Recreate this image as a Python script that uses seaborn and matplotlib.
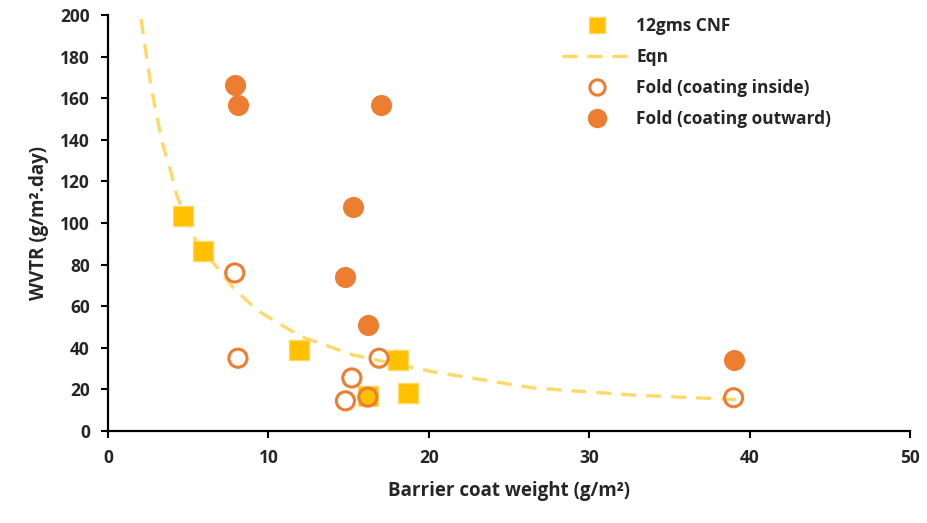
import matplotlib
matplotlib.use("Agg")
import matplotlib.pyplot as plt
import seaborn as sns
import pandas as pd
from matplotlib.lines import Line2D

# ---- data ----
cnf_x = [4.7, 5.9, 11.9, 18.1, 18.7, 16.2]
cnf_y = [103.5, 86.5, 39.0, 34.0, 18.3, 17.0]

inside_x = [7.9, 8.1, 16.9, 15.2, 14.8, 16.2, 39.0]
inside_y = [76.0, 35.0, 35.0, 25.5, 14.5, 16.3, 16.0]

outward_x = [7.9, 8.1, 17.0, 15.3, 14.8, 16.2, 39.0]
outward_y = [166.5, 156.5, 156.5, 107.5, 74.0, 51.0, 34.0]

eqn_x = [2.06, 2.4, 2.7, 3.0, 3.4, 3.9, 4.3, 5.5, 7.8, 9.3, 12.0, 15.3, 20.3, 26.5, 32.7, 39.8]
eqn_y = [198, 180, 165, 153, 138, 125, 113, 91, 69, 58, 45.5, 36.5, 28.4, 20.7, 17.3, 14.9]

labels = ["12gms CNF", "Eqn", "Fold (coating inside)", "Fold (coating outward)"]
x_ticks = [0, 10, 20, 30, 40, 50]
y_ticks = [0, 20, 40, 60, 80, 100, 120, 140, 160, 180, 200]

sns.set_theme(style="ticks")
plt.rcParams['font.family'] = ['Open Sans', 'DejaVu Sans']
plt.rcParams['font.weight'] = 'bold'

fig = plt.figure(figsize=(9.28, 5.23), dpi=100)
ax = fig.add_axes([0.1164, 0.1759, 0.8642, 0.7954])

gold = "#FFC000"
orange = "#ED7D31"
light = "#FFD966"

df_eqn = pd.DataFrame({"x": eqn_x, "y": eqn_y})
sns.lineplot(data=df_eqn, x="x", y="y", ax=ax, color=light, lw=2.4,
             sort=False, estimator=None, zorder=1)
ax.lines[-1].set_dashes((4.5, 3))

df_cnf = pd.DataFrame({"x": cnf_x, "y": cnf_y})
sns.scatterplot(data=df_cnf, x="x", y="y", ax=ax, marker="s", s=190,
                color=gold, edgecolor="#FFD966", linewidth=1.0, zorder=2)

df_out = pd.DataFrame({"x": outward_x, "y": outward_y})
sns.scatterplot(data=df_out, x="x", y="y", ax=ax, marker="o", s=200,
                color=orange, edgecolor=orange, linewidth=1.0, zorder=3)

df_in = pd.DataFrame({"x": inside_x, "y": inside_y})
sns.scatterplot(data=df_in, x="x", y="y", ax=ax, marker="o", s=170,
                facecolor="none", edgecolor=orange, linewidth=2.2, zorder=4)

ax.set_xlim(0, 50)
ax.set_ylim(0, 200)
ax.set_xticks(x_ticks)
ax.set_yticks(y_ticks)
ax.tick_params(axis="both", labelsize=12.5, length=5, width=1.5, color="black",
               pad=8)
for lab in ax.get_xticklabels() + ax.get_yticklabels():
    lab.set_fontweight("bold")
for sp in ["top", "right"]:
    ax.spines[sp].set_visible(False)
for sp in ["left", "bottom"]:
    ax.spines[sp].set_linewidth(1.6)
    ax.spines[sp].set_color("black")

ax.set_xlabel("Barrier coat weight (g/m²)", fontsize=13.5,
              fontweight="bold", labelpad=10)
ax.set_ylabel("WVTR (g/m².day)", fontsize=13.5,
              fontweight="bold", labelpad=8)

handles = [
    Line2D([], [], marker="s", ls="none", markersize=12, color=gold,
           markeredgecolor=light),
    Line2D([], [], color=light, lw=2.4, dashes=(4.5, 3)),
    Line2D([], [], marker="o", ls="none", markersize=11, markerfacecolor="white",
           markeredgecolor=orange, markeredgewidth=2.2),
    Line2D([], [], marker="o", ls="none", markersize=13, color=orange),
]
leg = fig.legend(handles, labels, loc="upper left",
                 bbox_to_anchor=(0.589, 0.997), frameon=False,
                 prop={"size": 12.5, "weight": "bold"}, handlelength=4.0,
                 labelspacing=0.75, handletextpad=0.25)

fig.savefig("out.png", dpi=100)
